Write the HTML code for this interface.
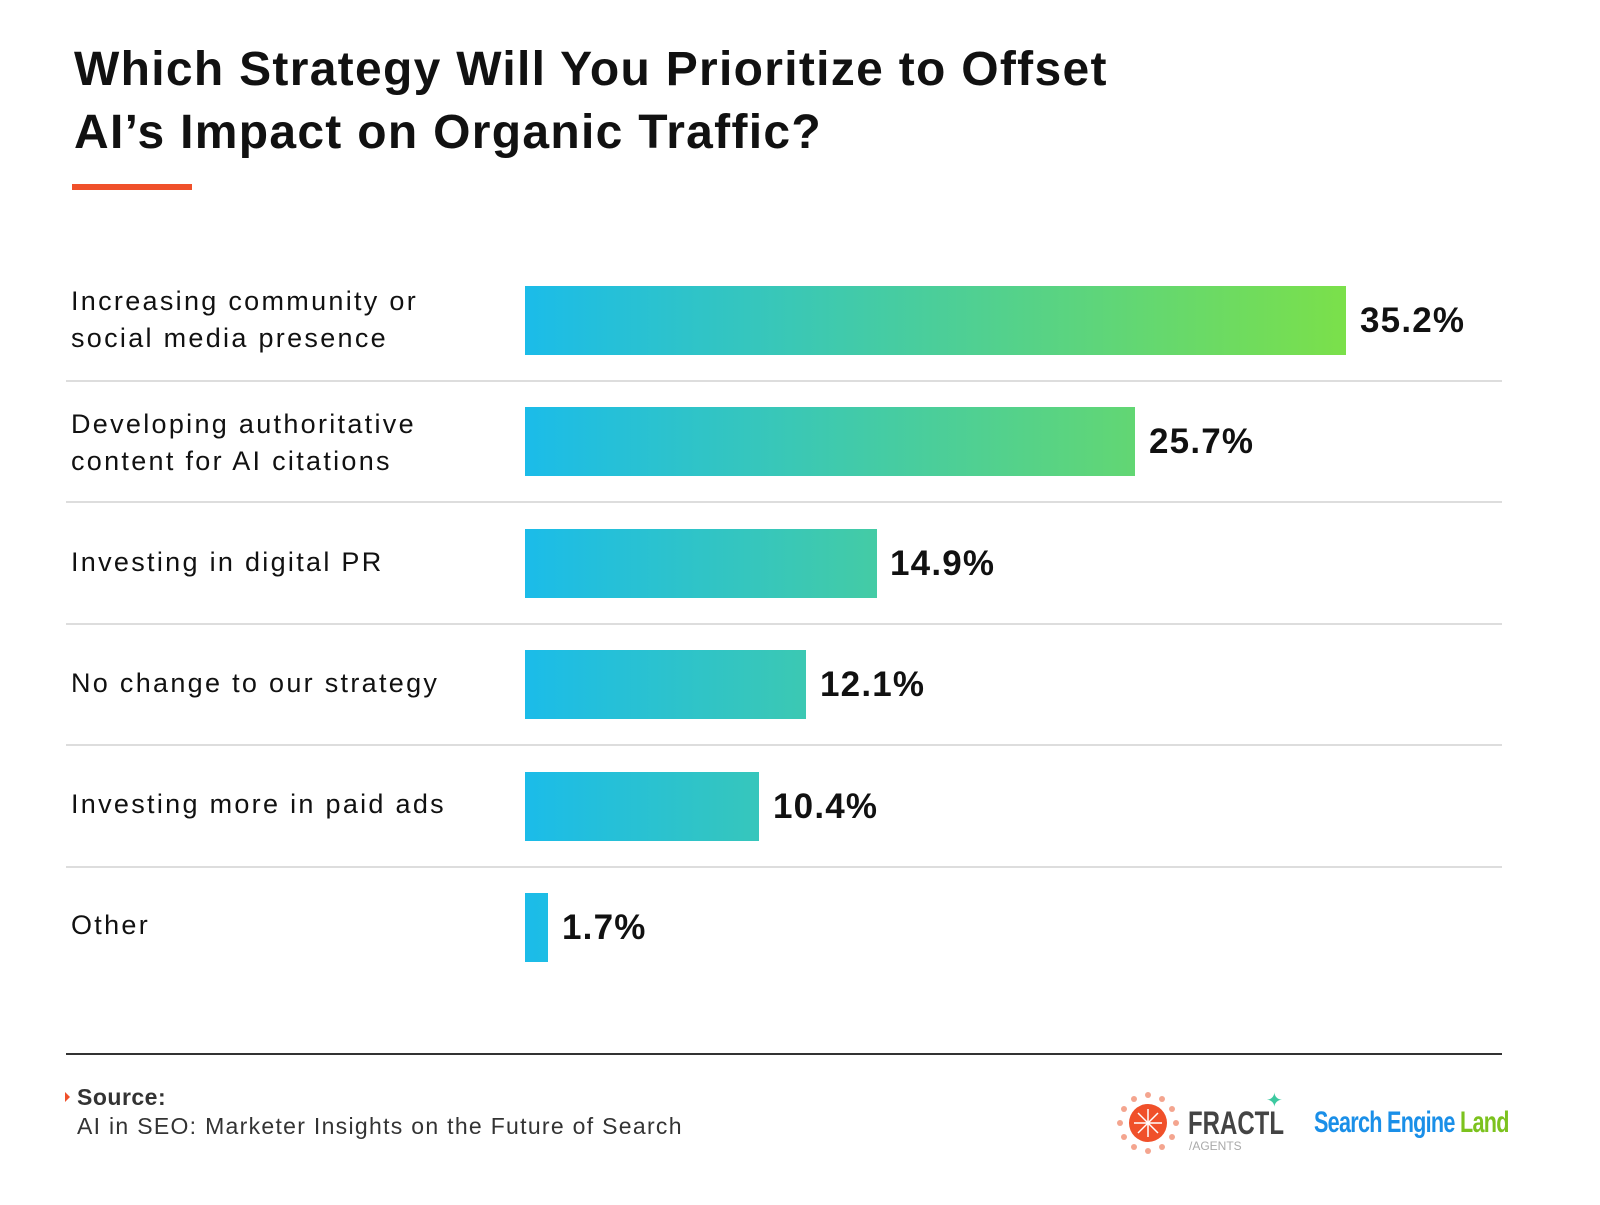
<!DOCTYPE html>
<html><head><style>
body{margin:0;width:1600px;height:1205px;background:#fff;position:relative;font-family:"Liberation Sans",sans-serif;overflow:hidden}
.t{position:absolute;left:74px;top:38px;font-size:48px;font-weight:bold;line-height:63px;color:#111;letter-spacing:1.3px}
.u{position:absolute;left:72px;top:184px;width:120px;height:6px;background:#f0502a}
.lab{position:absolute;left:71px;font-size:27px;letter-spacing:2.3px;line-height:37px;color:#111}
.bar{position:absolute;left:525px;height:69px;background:linear-gradient(90deg,#1bbce9,#7be04a);background-size:821px 69px;background-repeat:no-repeat}
.val{position:absolute;font-size:35px;font-weight:bold;color:#111;line-height:69px;letter-spacing:1.2px}
.sep{position:absolute;left:66px;width:1436px;height:2px;background:#ddd}
</style></head><body>
<div class="t">Which Strategy Will You Prioritize to Offset<br>AI’s Impact on Organic Traffic?</div>
<div class="u"></div>

<div class="lab" style="top:283px">Increasing community or<br>social media presence</div>
<div class="bar" style="top:286px;width:821px"></div><div class="val" style="top:286px;left:1360px">35.2%</div>
<div class="sep" style="top:380px"></div>

<div class="lab" style="top:406px">Developing authoritative<br>content for AI citations</div>
<div class="bar" style="top:407px;width:610px"></div><div class="val" style="top:407px;left:1149px">25.7%</div>
<div class="sep" style="top:501px"></div>

<div class="lab" style="top:544px">Investing in digital PR</div>
<div class="bar" style="top:529px;width:352px"></div><div class="val" style="top:529px;left:890px">14.9%</div>
<div class="sep" style="top:623px"></div>

<div class="lab" style="top:665px">No change to our strategy</div>
<div class="bar" style="top:650px;width:281px"></div><div class="val" style="top:650px;left:820px">12.1%</div>
<div class="sep" style="top:744px"></div>

<div class="lab" style="top:786px">Investing more in paid ads</div>
<div class="bar" style="top:772px;width:234px"></div><div class="val" style="top:772px;left:773px">10.4%</div>
<div class="sep" style="top:866px"></div>

<div class="lab" style="top:907px">Other</div>
<div class="bar" style="top:893px;width:23px"></div><div class="val" style="top:893px;left:562px">1.7%</div>

<div style="position:absolute;left:66px;top:1053px;width:1436px;height:2px;background:#333"></div>
<div style="position:absolute;left:65px;top:1092px;width:0;height:0;border-left:5px solid #f0502a;border-top:5px solid transparent;border-bottom:5px solid transparent"></div>
<div style="position:absolute;left:77px;top:1084px;font-size:23px;font-weight:bold;color:#333;letter-spacing:0.5px">Source:</div>
<div style="position:absolute;left:77px;top:1113px;font-size:23px;color:#333;letter-spacing:1.3px">AI in SEO: Marketer Insights on the Future of Search</div>

<svg style="position:absolute;left:1115px;top:1090px" width="70" height="70">
<g fill="#f0502a"><circle cx="33" cy="33" r="19"/></g>
<g fill="#f4a58f"><circle cx="33" cy="5" r="3"/><circle cx="47" cy="9" r="3"/><circle cx="57" cy="19" r="3"/><circle cx="61" cy="33" r="3"/><circle cx="57" cy="47" r="3"/><circle cx="47" cy="57" r="3"/><circle cx="33" cy="61" r="3"/><circle cx="19" cy="57" r="3"/><circle cx="9" cy="47" r="3"/><circle cx="5" cy="33" r="3"/><circle cx="9" cy="19" r="3"/><circle cx="19" cy="9" r="3"/></g>
<g stroke="#fff" stroke-width="1.5"><line x1="33" y1="19" x2="33" y2="47"/><line x1="19" y1="33" x2="47" y2="33"/><line x1="23" y1="23" x2="43" y2="43"/><line x1="43" y1="23" x2="23" y2="43"/></g>
</svg>
<div style="position:absolute;left:1188px;top:1105px;font-size:32px;font-weight:bold;color:#444;transform:scaleX(0.75);transform-origin:left">FRACTL</div>
<div style="position:absolute;left:1189px;top:1139px;font-size:12px;color:#aaa">/AGENTS</div>
<div style="position:absolute;left:1266px;top:1088px;font-size:20px;color:#3cc9a0">✦</div>
<div style="position:absolute;left:1314px;top:1106px;font-size:30px;font-weight:bold;color:#1a8fe8;transform:scaleX(0.72);transform-origin:left;white-space:nowrap;letter-spacing:-1px">Search Engine <span style="color:#7cc21e">Land</span></div>
</body></html>
